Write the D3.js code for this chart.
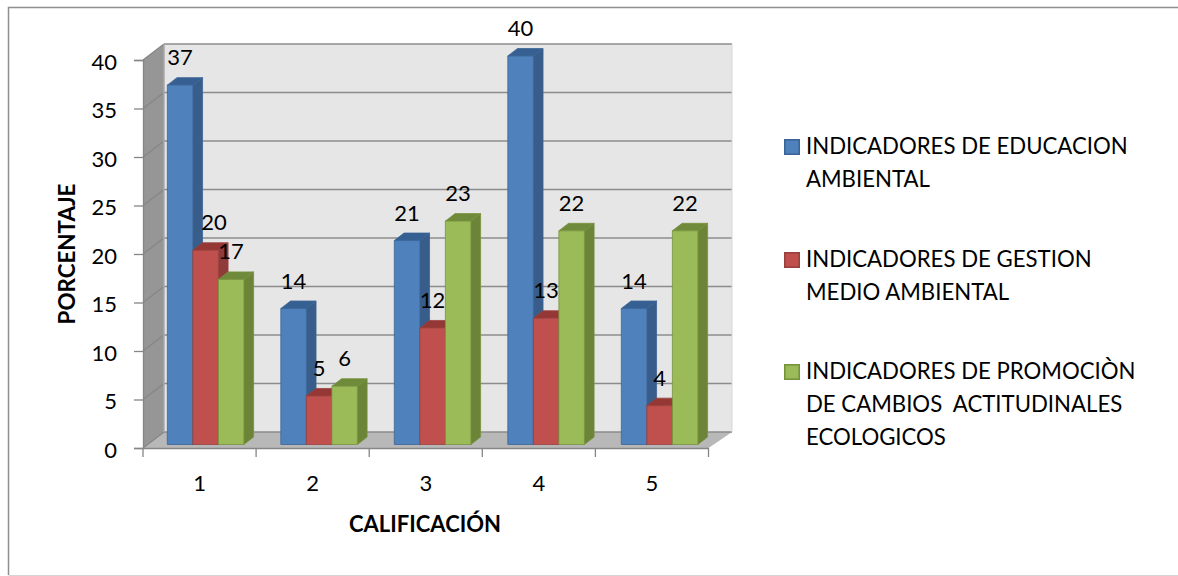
<!DOCTYPE html>
<html>
<head>
<meta charset="utf-8">
<script src="https://cdn.jsdelivr.net/npm/d3@7"></script>
<style>
  html, body { margin: 0; padding: 0; background: #fff; }
  svg { display: block; }
  text { font-family: Lato, "Open Sans", sans-serif; fill: #000; }
</style>
</head>
<body>
<svg id="chart" width="1178" height="576"></svg>
<script>
var categories = ['1', '2', '3', '4', '5'];
var educacion = [37, 14, 21, 40, 14];
var gestion = [20, 5, 12, 13, 4];
var promocion = [17, 6, 23, 22, 22];
var yTicks = [0, 5, 10, 15, 20, 25, 30, 35, 40];
var legendLines = [
  ['INDICADORES DE EDUCACION', 'AMBIENTAL'],
  ['INDICADORES DE GESTION', 'MEDIO AMBIENTAL'],
  ['INDICADORES DE PROMOCIÒN', 'DE CAMBIOS  ACTITUDINALES', 'ECOLOGICOS']
];

var seriesList = [
  { values: educacion, front: '#4f81bd', side: '#385d8a', top: '#376092', line: '#3a6596' },
  { values: gestion, front: '#c0504d', side: '#8e3b39', top: '#953735', line: '#98403d' },
  { values: promocion, front: '#9bbb59', side: '#6b8437', top: '#6f8a3a', line: '#76923c' }
];

var svg = d3.select('#chart');

// outer frame, it runs off the right edge of the picture
svg.append('path').attr('d', 'M1178,7.5H8.5V575').attr('fill', 'none').attr('stroke', '#8f8f8f').attr('stroke-width', 1.5);
svg.append('path').attr('d', 'M8.5,575.5H1178').attr('fill', 'none').attr('stroke', '#d4d4d4').attr('stroke-width', 1);

// front plane of the chart, the walls sit behind it by depth
var x = d3.scaleBand().domain(categories).range([143, 708.5]);
var xGroups = d3.scaleBand().domain(categories).range([143.3, 710.8]);
var xInner = d3.scaleBand().domain(d3.range(3)).range([24, 100.6]);
var y = d3.scaleLinear().domain([0, 40]).range([448, 60]);
var yBar = d3.scaleLinear().domain([0, 40]).range([444.5, 56]);
var depth = { x: 21, y: -16 };
var barDepth = { x: 9.7, y: -7.5 };

function poly(sel, pts, fill) {
  return sel.append('polygon')
    .attr('points', pts.map(function(p) { return p.join(','); }).join(' '))
    .attr('fill', fill);
}

var x0 = x.range()[0], x1 = x.range()[1];
var wallRight = 732;
var walls = svg.append('g');
poly(walls, [[x0 + depth.x, y(40) + depth.y], [wallRight, y(40) + depth.y], [wallRight, y(0) + depth.y], [x0 + depth.x, y(0) + depth.y]], '#e6e6e6');
poly(walls, [[x0, y(40)], [x0 + depth.x, y(40) + depth.y], [x0 + depth.x, y(0) + depth.y], [x0, y(0)]], '#969696');
poly(walls, [[x0, y(0)], [x0 + depth.x, y(0) + depth.y], [wallRight, y(0) + depth.y], [x1, y(0)]], '#b8b8b8');

// gridlines on the back wall and the left wall
yTicks.forEach(function(t) {
  walls.append('line')
    .attr('x1', x0 + depth.x).attr('x2', wallRight)
    .attr('y1', y(t) + depth.y).attr('y2', y(t) + depth.y)
    .attr('stroke', '#8c8c8c').attr('stroke-width', 1.6);
  walls.append('line')
    .attr('x1', x0).attr('x2', x0 + depth.x)
    .attr('y1', y(t)).attr('y2', y(t) + depth.y)
    .attr('stroke', '#868686').attr('stroke-width', 1.3);
});
walls.append('line').attr('x1', x0 + depth.x).attr('x2', x0 + depth.x)
  .attr('y1', y(40) + depth.y).attr('y2', y(0) + depth.y)
  .attr('stroke', '#a8a8a8').attr('stroke-width', 1.5);
walls.append('line').attr('x1', wallRight).attr('x2', wallRight)
  .attr('y1', y(40) + depth.y).attr('y2', y(0) + depth.y)
  .attr('stroke', '#d8d8d8').attr('stroke-width', 1);

// axes
var yAxis = d3.axisLeft(y).tickValues(yTicks).tickSize(9).tickPadding(17);
var gy = svg.append('g').attr('transform', 'translate(' + x0 + ',0)').call(yAxis);
var xAxis = d3.axisBottom(x).tickSize(0);
var gx = svg.append('g').attr('transform', 'translate(0,' + y(0) + ')').call(xAxis);
[gy, gx].forEach(function(g) {
  g.selectAll('text').style('font-family', 'Lato, "Open Sans", sans-serif').style('font-size', '22px');
  g.selectAll('line').attr('stroke', '#868686').attr('stroke-width', 1.3);
  g.select('.domain').attr('stroke', '#868686').attr('stroke-width', 1.3);
});
gy.selectAll('.tick text').attr('dy', '0.41em');
gx.selectAll('.tick text').attr('y', 43).attr('dy', 0);
d3.range(categories.length + 1).forEach(function(i) {
  var px = x0 + i * x.step();
  gx.append('line').attr('x1', px).attr('x2', px).attr('y1', 0).attr('y2', 9)
    .attr('stroke', '#868686').attr('stroke-width', 1.3);
});

// bars, left to right so each one covers the side of the one before
var bars = svg.append('g');
categories.forEach(function(c, ci) {
  seriesList.forEach(function(s, si) {
    var v = s.values[ci];
    var left = xGroups(c) + xInner(si);
    var w = xInner.bandwidth();
    var t = yBar(v), b = yBar(0);
    var g = bars.append('g').attr('stroke', s.line).attr('stroke-width', 0.8).attr('stroke-linejoin', 'round');
    poly(g, [[left + w, t], [left + w + barDepth.x, t + barDepth.y], [left + w + barDepth.x, b + barDepth.y], [left + w, b]], s.side);
    poly(g, [[left, t], [left + barDepth.x, t + barDepth.y], [left + w + barDepth.x, t + barDepth.y], [left + w, t]], s.top);
    g.append('rect').attr('x', left).attr('y', t).attr('width', w).attr('height', b - t).attr('fill', s.front);
  });
});

// value labels
var labels = svg.append('g');
categories.forEach(function(c, ci) {
  seriesList.forEach(function(s, si) {
    // the 20 of the first group sits off to the right in the original
    var nudge = (ci === 0 && si === 1) ? 8.5 : 0;
    labels.append('text')
      .attr('x', xGroups(c) + xInner(si) + xInner.bandwidth() / 2 + nudge)
      .attr('y', yBar(s.values[ci]) - 20)
      .attr('text-anchor', 'middle')
      .style('font-size', '22px')
      .text(s.values[ci]);
  });
});

// axis titles
svg.append('text').attr('x', 425).attr('y', 532).attr('text-anchor', 'middle')
  .style('font-size', '22px').style('font-weight', 700).text('CALIFICACIÓN');
svg.append('text').attr('transform', 'translate(75,254) rotate(-90)').attr('text-anchor', 'middle')
  .style('font-size', '22.4px').style('font-weight', 700).text('PORCENTAJE');

// legend
var legendTop = [154, 267, 379];
legendLines.forEach(function(lines, i) {
  var s = seriesList[i];
  svg.append('rect').attr('x', 784.8).attr('y', legendTop[i] - 14.2).attr('width', 14.4).attr('height', 14.4)
    .attr('fill', s.front).attr('stroke', s.line).attr('stroke-width', 1.6);
  lines.forEach(function(line, li) {
    svg.append('text').attr('x', 806).attr('y', legendTop[i] + li * 33)
      .style('font-size', '22.2px').style('white-space', 'pre').text(line);
  });
});
</script>
</body>
</html>
